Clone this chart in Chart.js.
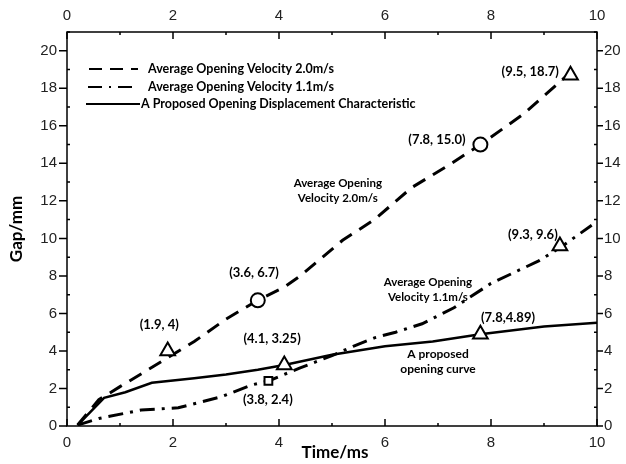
<!DOCTYPE html>
<html>
<head>
<meta charset="utf-8">
<script src="https://cdn.jsdelivr.net/npm/chart.js@4.4.0/dist/chart.umd.min.js"></script>
<style>
  html, body { margin: 0; padding: 0; background: #fff; }
  #wrap { width: 626px; height: 464px; position: relative; }
</style>
</head>
<body>
<div id="wrap"><canvas id="gapChart"></canvas></div>
<script>
// ticks
var xTicks = [0, 2, 4, 6, 8, 10];
var yTicks = [0, 2, 4, 6, 8, 10, 12, 14, 16, 18, 20];

// average opening velocity 2.0 m/s (dashed)
var fastTime = [0.2, 0.6, 1.0, 1.5, 2.4, 3.0, 3.6, 4.1, 4.4, 5.2, 5.8, 6.5, 7.2, 7.8, 8.6, 9.6];
var fastGap  = [0.05, 1.4, 2.1, 2.95, 4.5, 5.7, 6.7, 7.4, 8.0, 9.9, 11.0, 12.7, 13.9, 15.0, 16.6, 19.1];

// average opening velocity 1.1 m/s (dash-dot)
var slowTime = [0.2, 0.6, 1.4, 2.1, 2.9, 3.5, 3.8, 4.4, 5.0, 5.4, 5.8, 6.2, 6.7, 7.3, 8.0, 8.9, 9.3, 9.9];
var slowGap  = [0.05, 0.4, 0.85, 0.97, 1.55, 2.2, 2.4, 3.1, 3.75, 4.25, 4.7, 5.0, 5.45, 6.3, 7.6, 8.8, 9.5, 10.7];

// proposed opening displacement (solid)
var propTime = [0.2, 0.7, 1.1, 1.6, 2.4, 3.0, 3.6, 4.1, 5.0, 6.0, 6.9, 7.8, 9.0, 10.0];
var propGap  = [0.05, 1.5, 1.8, 2.3, 2.55, 2.75, 3.0, 3.25, 3.8, 4.25, 4.5, 4.89, 5.3, 5.5];

// marked points
var markTime  = [1.9, 4.1, 7.8, 9.3, 9.5, 3.6, 7.8, 3.8];
var markGap   = [4, 3.25, 4.89, 9.6, 18.7, 6.7, 15.0, 2.4];
var markShape = ['triangle', 'triangle', 'triangle', 'triangle', 'triangle', 'circle', 'circle', 'rect'];
var markSize  = [8.5, 8.5, 8.5, 8.5, 8.5, 7, 7, 5.5];

// text notes (anchored in data units)
var noteText = ['(9.5, 18.7)', '(7.8, 15.0)', 'Average Opening', 'Velocity 2.0m/s',
                '(3.6, 6.7)', '(1.9, 4)', '(4.1, 3.25)', '(3.8, 2.4)', '(9.3, 9.6)',
                'Average Opening', 'Velocity 1.1m/s', '(7.8,4.89)', 'A proposed', 'opening curve'];
var noteTime = [8.74, 6.98, 5.11, 5.11, 3.53, 1.74, 3.87, 3.79, 8.79, 6.81, 6.81, 8.32, 7.0, 7.0];
var noteGap  = [18.88, 15.25, 12.96, 12.11, 8.16, 5.39, 4.64, 1.39, 10.19, 7.68, 6.88, 5.76, 3.84, 3.04];
var noteSize = [13, 13, 11.5, 11.5, 13, 13, 13, 13, 13, 11.5, 11.5, 13, 12, 12];

var legendNames = ['Average Opening Velocity 2.0m/s', 'Average Opening Velocity 1.1m/s',
                   'A Proposed Opening Displacement Characteristic'];

function pts(xs, ys) {
  return xs.map(function (x, i) { return { x: x, y: ys[i] }; });
}

var boldFont = 'bold {s}px Lato, "Open Sans", sans-serif';
function bf(s) { return boldFont.replace('{s}', s); }

var framePlugin = {
  id: 'frame',
  afterDraw: function (chart) {
    var ctx = chart.ctx, a = chart.chartArea;
    var sx = chart.scales.x, sy = chart.scales.y;
    ctx.save();
    ctx.strokeStyle = '#000';
    ctx.lineWidth = 1.5;
    ctx.strokeRect(a.left, a.top, a.right - a.left, a.bottom - a.top);

    // x ticks, inward on top and bottom
    for (var v = 0; v <= 10; v += 1) {
      var px = sx.getPixelForValue(v);
      var len = (v % 2 === 0) ? 7 : 3;
      ctx.beginPath();
      ctx.moveTo(px, a.bottom); ctx.lineTo(px, a.bottom - len);
      ctx.moveTo(px, a.top); ctx.lineTo(px, a.top + len);
      ctx.stroke();
    }
    // y ticks, major outward, minor inward
    for (var w = 0; w <= 21; w += 1) {
      var py = sy.getPixelForValue(w);
      ctx.beginPath();
      if (w % 2 === 0 && w <= 20) {
        ctx.moveTo(a.left, py); ctx.lineTo(a.left - 8, py);
        ctx.moveTo(a.right, py); ctx.lineTo(a.right + 6, py);
      } else {
        ctx.moveTo(a.left, py); ctx.lineTo(a.left + 3, py);
        ctx.moveTo(a.right, py); ctx.lineTo(a.right - 3, py);
      }
      ctx.stroke();
    }

    // legend
    var lx = a.left, ly = a.top;
    var rows = [37, 55, 72];
    var dashes = [[13, 8], [14, 7, 2, 7], []];
    var from = [22, 21, 19], to = [71, 68, 73], tx = [81, 81, 74];
    ctx.lineWidth = 2;
    ctx.font = bf(12.5);
    ctx.fillStyle = '#000';
    ctx.textBaseline = 'middle';
    ctx.textAlign = 'left';
    for (var i = 0; i < 3; i++) {
      ctx.setLineDash(dashes[i]);
      ctx.beginPath();
      ctx.moveTo(lx + from[i], ly + rows[i]);
      ctx.lineTo(lx + to[i], ly + rows[i]);
      ctx.stroke();
      ctx.fillText(legendNames[i], lx + tx[i], ly + rows[i]);
    }
    ctx.setLineDash([]);

    // notes
    ctx.textAlign = 'center';
    for (var k = 0; k < noteText.length; k++) {
      ctx.font = bf(noteSize[k]);
      ctx.fillText(noteText[k], sx.getPixelForValue(noteTime[k]), sy.getPixelForValue(noteGap[k]));
    }

    // axis titles
    ctx.font = bf(17);
    ctx.fillText('Time/ms', (a.left + a.right) / 2 + 3, 453);
    ctx.save();
    ctx.translate(17, (a.top + a.bottom) / 2);
    ctx.rotate(-Math.PI / 2);
    ctx.fillText('Gap/mm', 0, 0);
    ctx.restore();
    ctx.restore();
  }
};

function setTicks(list) {
  return function (s) { s.ticks = list.map(function (v) { return { value: v }; }); };
}

var tickFont = { family: '"Liberation Sans", Arial, sans-serif', size: 15 };

new Chart(document.getElementById('gapChart'), {
  type: 'line',
  data: {
    datasets: [{
      label: 'marks',
      type: 'scatter',
      data: pts(markTime, markGap),
      pointStyle: markShape,
      pointRadius: markSize,
      pointBackgroundColor: '#fff',
      pointBorderColor: '#000',
      pointBorderWidth: 2,
      showLine: false,
      order: 0
    }, {
      label: legendNames[0],
      data: pts(fastTime, fastGap),
      borderColor: '#000',
      borderWidth: 3,
      borderDash: [14, 9],
      pointRadius: 0,
      order: 1
    }, {
      label: legendNames[1],
      data: pts(slowTime, slowGap),
      borderColor: '#000',
      borderWidth: 3,
      borderDash: [15, 7, 3, 7],
      pointRadius: 0,
      order: 1
    }, {
      label: legendNames[2],
      data: pts(propTime, propGap),
      borderColor: '#000',
      borderWidth: 2.5,
      pointRadius: 0,
      order: 1
    }]
  },
  options: {
    responsive: true,
    maintainAspectRatio: false,
    animation: false,
    layout: { padding: 0 },
    plugins: {
      legend: { display: false },
      tooltip: { enabled: false }
    },
    scales: {
      x: {
        type: 'linear', position: 'bottom', min: 0, max: 10,
        grid: { display: false, drawTicks: false },
        border: { display: false },
        ticks: { font: tickFont, color: '#222', padding: 8 },
        afterBuildTicks: setTicks(xTicks),
        afterFit: function (s) { s.height = 38; }
      },
      x2: {
        type: 'linear', position: 'top', min: 0, max: 10,
        grid: { display: false, drawTicks: false },
        border: { display: false },
        ticks: { font: tickFont, color: '#222', padding: 7 },
        afterBuildTicks: setTicks(xTicks),
        afterFit: function (s) { s.height = 32; }
      },
      y: {
        type: 'linear', position: 'left', min: 0, max: 21,
        grid: { display: false, drawTicks: false },
        border: { display: false },
        ticks: { font: tickFont, color: '#222', padding: 10 },
        afterBuildTicks: setTicks(yTicks),
        afterFit: function (s) { s.width = 67; }
      },
      y2: {
        type: 'linear', position: 'right', min: 0, max: 21,
        grid: { display: false, drawTicks: false },
        border: { display: false },
        ticks: { font: tickFont, color: '#222', padding: 7 },
        afterBuildTicks: setTicks(yTicks),
        afterFit: function (s) { s.width = 29; }
      }
    }
  },
  plugins: [framePlugin]
});
</script>
</body>
</html>
